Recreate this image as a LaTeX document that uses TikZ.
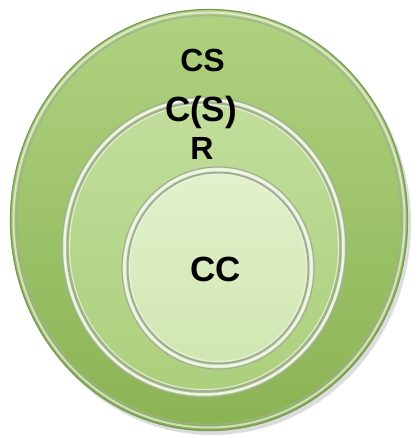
\documentclass[tikz,border=0pt]{standalone}
\usepackage{fontspec}
\setmainfont{Liberation Sans}
\usetikzlibrary{shapes.geometric}
\definecolor{outtop}{HTML}{B0D281}
\definecolor{outbot}{HTML}{8AB353}
\definecolor{midtop}{HTML}{C2DE9C}
\definecolor{midbot}{HTML}{ABCF7C}
\definecolor{intop}{HTML}{E2F1CC}
\definecolor{inbot}{HTML}{CFE6B0}
\definecolor{rimdark}{HTML}{7A965C}
\definecolor{rimlight}{HTML}{EEF4E6}
\definecolor{rimgray}{HTML}{A2AE94}
\tikzset{
  disc/.style={ellipse, inner sep=0pt, draw=none},
  lbl/.style={font=\bfseries\fontsize{32}{32}\selectfont, text=black, inner sep=0pt, anchor=base},
  lblbig/.style={lbl, font=\bfseries\fontsize{35}{35}\selectfont},
}
\begin{document}
\begin{tikzpicture}[x=1pt,y=1pt]
\useasboundingbox (0,0) rectangle (419,438);
% shadow
\fill[black!30, opacity=.45] (212,214) ellipse (199 and 211);
% outer
\node[disc, minimum width=398pt, minimum height=422pt, top color=outtop, bottom color=outbot] (cs) at (209,218) {};
\draw[rimdark, line width=1.2pt] (cs.center) ellipse (198.5 and 210.5);
\draw[rimlight, line width=2pt, opacity=.7] (cs.center) ellipse (195.5 and 207.5);
\draw[rimgray, line width=1.5pt, opacity=.8] (cs.center) ellipse (192.5 and 204.5);
% middle
\node[disc, minimum width=284pt, minimum height=300pt, top color=midtop, bottom color=midbot] (csr) at (204,191) {};
\draw[rimgray, line width=1.2pt] (csr.center) ellipse (142 and 150);
\draw[rimlight, line width=2.5pt] (csr.center) ellipse (139.5 and 147.5);
\draw[rimgray, line width=2pt] (csr.center) ellipse (136.5 and 144.5);
\draw[rimlight, line width=1pt, opacity=.8] (csr.center) ellipse (134.5 and 142.5);
% inner
\node[disc, minimum width=192pt, minimum height=202pt, top color=intop, bottom color=inbot] (cc) at (218,170) {};
\draw[rimgray, line width=1.2pt] (cc.center) ellipse (96 and 101);
\draw[rimlight, line width=2.5pt] (cc.center) ellipse (93.5 and 98.5);
\draw[rimgray, line width=2pt] (cc.center) ellipse (90.5 and 95.5);
\draw[rimlight, line width=1pt, opacity=.8] (cc.center) ellipse (88.5 and 93.5);
% labels
\node[lbl] (tcs) at (202.5,366) {CS};
\node[lblbig] (tcsr) at (201,316) {C(S)};
\node[lbl] (tr) at (202,278) {R};
\node[lblbig] (tcc) at (216,156) {CC};
\end{tikzpicture}
\end{document}
